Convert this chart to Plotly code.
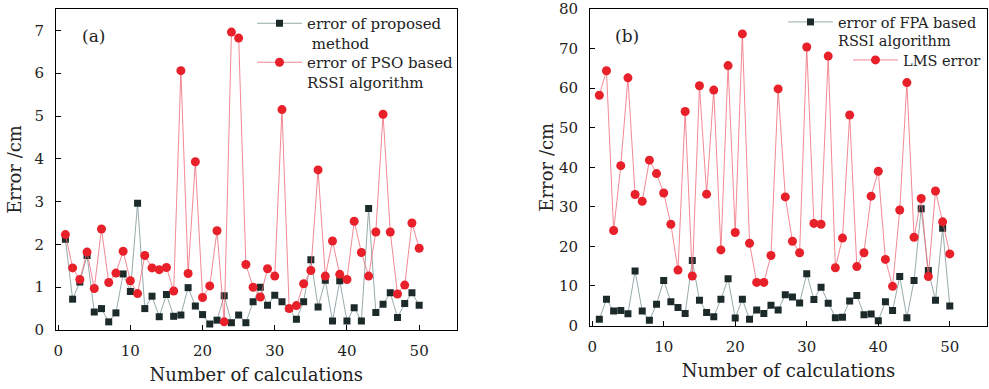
import plotly.graph_objects as go

calculations = list(range(1, 51))

proposed_err = [2.12, 0.72, 1.12, 1.74, 0.42, 0.50, 0.19, 0.40, 1.31, 0.90,
                2.96, 0.50, 0.79, 0.31, 0.83, 0.32, 0.35, 0.99, 0.56, 0.36,
                0.14, 0.23, 0.80, 0.17, 0.35, 0.17, 0.66, 1.00, 0.58, 0.81,
                0.66, 0.50, 0.25, 0.66, 1.64, 0.54, 1.16, 0.21, 1.15, 0.21,
                0.52, 0.21, 2.84, 0.41, 0.60, 0.87, 0.29, 0.62, 0.87, 0.58]

pso_err = [2.23, 1.45, 1.18, 1.82, 0.97, 2.36, 1.11, 1.33, 1.84, 1.15,
           0.85, 1.74, 1.45, 1.41, 1.46, 0.91, 6.06, 1.32, 3.93, 0.76,
           1.03, 2.32, 0.19, 6.96, 6.82, 1.53, 1.00, 0.77, 1.43, 1.26,
           5.15, 0.50, 0.57, 1.08, 1.39, 3.74, 1.26, 2.08, 1.30, 1.18,
           2.54, 1.81, 1.26, 2.29, 5.04, 2.29, 0.84, 1.05, 2.50, 1.91]

fpa_err = [1.55, 6.65, 3.64, 3.80, 2.97, 13.8, 3.64, 1.30, 5.40, 11.4,
           6.00, 4.56, 3.05, 16.4, 6.40, 3.30, 2.20, 6.65, 11.8, 1.90,
           6.65, 1.55, 3.90, 3.05, 5.10, 3.90, 7.80, 7.20, 5.70, 13.1,
           6.60, 9.70, 5.60, 1.97, 2.10, 6.20, 7.60, 2.70, 2.90, 1.20,
           6.00, 3.80, 12.4, 1.97, 11.4, 29.5, 13.9, 6.40, 24.6, 4.90]

lms_err = [58.2, 64.4, 24.0, 40.4, 62.6, 33.1, 31.4, 41.8, 38.4, 33.5,
           25.6, 14.0, 54.1, 12.5, 60.6, 33.2, 59.5, 19.1, 65.7, 23.5,
           73.7, 20.8, 10.9, 10.9, 17.7, 59.8, 32.5, 21.3, 18.4, 70.4,
           25.8, 25.6, 68.1, 14.6, 22.1, 53.2, 14.9, 18.4, 32.7, 39.0,
           16.7, 9.9, 29.2, 61.4, 22.3, 32.1, 12.4, 34.0, 26.2, 18.1]

FONT = "DejaVu Serif"
SQ_COLOR = "#1c2a2a"
SQ_LINE = "#7d9494"
RED = "#e8202a"
RED_LINE = "#f06a7a"

fig = go.Figure()

fig.add_trace(go.Scatter(x=calculations, y=proposed_err, mode="lines+markers",
                         name="error of proposed<br>\u00a0method",
                         line=dict(color=SQ_LINE, width=0.8),
                         marker=dict(symbol="square", size=7, color=SQ_COLOR),
                         xaxis="x", yaxis="y", legend="legend"))
fig.add_trace(go.Scatter(x=calculations, y=pso_err, mode="lines+markers",
                         name="error of PSO based<br>RSSI algorithm",
                         line=dict(color=RED_LINE, width=0.8),
                         marker=dict(symbol="circle", size=9, color=RED),
                         xaxis="x", yaxis="y", legend="legend2"))
fig.add_trace(go.Scatter(x=calculations, y=fpa_err, mode="lines+markers",
                         name="error of FPA based<br>RSSI algorithm",
                         line=dict(color=SQ_LINE, width=0.8),
                         marker=dict(symbol="square", size=7, color=SQ_COLOR),
                         xaxis="x2", yaxis="y2", legend="legend3"))
fig.add_trace(go.Scatter(x=calculations, y=lms_err, mode="lines+markers",
                         name="LMS error",
                         line=dict(color=RED_LINE, width=0.8),
                         marker=dict(symbol="circle", size=9, color=RED),
                         xaxis="x2", yaxis="y2", legend="legend4"))

axis_common = dict(showline=True, linecolor="black", linewidth=1, mirror=True,
                   ticks="inside", ticklen=5, tickcolor="black", showgrid=False,
                   zeroline=False, automargin=False, ticklabeloverflow="allow",
                   tickfont=dict(family=FONT, size=15, color="#222"))

TOP = 9
fig.update_layout(
    width=989, height=389, autosize=False, showlegend=True,
    margin=dict(l=56, r=2, t=TOP, b=59, autoexpand=False),
    paper_bgcolor="white", plot_bgcolor="white",
    font=dict(family=FONT, color="#222"),
    xaxis=dict(domain=[0, 0.4304], range=[-0.3, 55.2], tick0=0, dtick=10, ticklabelstandoff=7,
               title=dict(text="Number of calculations", font=dict(family=FONT, size=18), standoff=9),
               anchor="y", **axis_common),
    yaxis=dict(domain=[0, 1], range=[0, 7.5], tick0=0, dtick=1, ticklabelstandoff=8,
               title=dict(text="Error /cm", font=dict(family=FONT, size=18), standoff=8),
               anchor="x", **axis_common),
    xaxis2=dict(domain=[0.5736, 1], range=[-0.3, 55.2], tick0=0, dtick=10, ticklabelstandoff=7,
                title=dict(text="Number of calculations", font=dict(family=FONT, size=18), standoff=9),
                anchor="y2", **axis_common),
    yaxis2=dict(domain=[0.014, 1], range=[0, 80], tick0=0, dtick=10, ticklabelstandoff=8,
                title=dict(text="Error /cm", font=dict(family=FONT, size=18), standoff=0),
                anchor="x2", **axis_common),
)

leg_common = dict(bgcolor="rgba(0,0,0,0)", borderwidth=0, xanchor="left", yanchor="top",
                  valign="top", itemwidth=45, xref="paper", yref="paper")
leg_font15 = dict(family=FONT, size=15, color="#222")
leg_font14 = dict(family=FONT, size=14.5, color="#222")

def px(x):
    return (x - 56) / 931

def py(y):
    return (330 - y) / (330 - TOP)

fig.update_layout(
    legend=dict(x=px(252), y=py(7), font=leg_font15, **leg_common),
    legend2=dict(x=px(252), y=py(46), font=leg_font15, **leg_common),
    legend3=dict(x=px(783), y=py(6), font=leg_font14, **leg_common),
    legend4=dict(x=px(848), y=py(44), font=leg_font14, **leg_common),
)

fig.add_annotation(text="(a)", x=0.06, y=0.954, xref="x domain", yref="y domain",
                   showarrow=False, font=dict(family=FONT, size=17, color="#222"))
fig.add_annotation(text="(b)", x=0.058, y=0.954, xref="x2 domain", yref="y2 domain",
                   showarrow=False, font=dict(family=FONT, size=17, color="#222"))

# remove the browser's default 8px body margin so the figure fills the window
fig.write_html("out.html", config={"displayModeBar": False},
               post_script="document.body.style.margin='0';")
